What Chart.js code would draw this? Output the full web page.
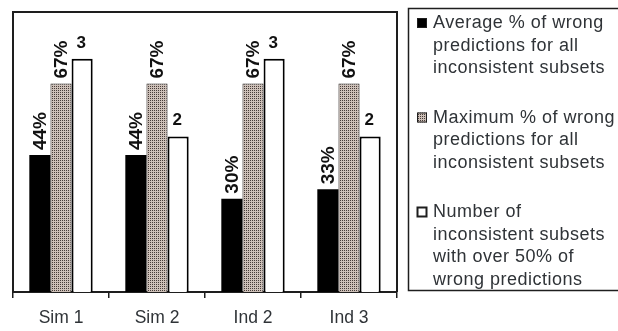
<!DOCTYPE html>
<html>
<head>
<meta charset="utf-8">
<script src="https://cdn.jsdelivr.net/npm/chart.js@4/dist/chart.umd.min.js"></script>
<style>
  html, body { margin: 0; padding: 0; background: #ffffff; }
  #wrap { width: 618px; height: 331px; position: relative; }
</style>
</head>
<body>
<div id="wrap"><canvas id="c" width="618" height="331"></canvas></div>
<script>
// Subsets of wrong predictions per model
const categories = ['Sim 1', 'Sim 2', 'Ind 2', 'Ind 3'];
const avgWrongPct = [44, 44, 30, 33];
const maxWrongPct = [67, 67, 67, 67];
const subsetsOver50 = [3, 2, 3, 2];

const avgName = ['Average % of wrong', 'predictions for all', 'inconsistent subsets'];
const maxName = ['Maximum % of wrong', 'predictions for all', 'inconsistent subsets'];
const countName = ['Number of', 'inconsistent subsets', 'with over 50% of', 'wrong predictions'];

const pctAxisMax = 90;
const countAxisMax = 3.6;

const INK = '#1e1e1e';
const TEXT = '#2f3337';

// fine dotted fill for the "maximum" bars
function dotPattern() {
  const p = document.createElement('canvas');
  p.width = 2; p.height = 2;
  const g = p.getContext('2d');
  g.fillStyle = '#cdc0b8';
  g.fillRect(0, 0, 2, 2);
  g.fillStyle = '#463c38';
  g.fillRect(0, 0, 1, 1);
  return g.createPattern(p, 'repeat');
}
const dots = dotPattern();

// frame around the plot area (top, left, right)
const framePlugin = {
  id: 'frame',
  beforeDatasetsDraw(chart) {
    const { ctx, chartArea: a } = chart;
    ctx.save();
    ctx.strokeStyle = INK;
    ctx.lineWidth = 2;
    ctx.beginPath();
    ctx.moveTo(a.left, a.bottom);
    ctx.lineTo(a.left, a.top);
    ctx.lineTo(a.right, a.top);
    ctx.lineTo(a.right, a.bottom);
    ctx.stroke();
    ctx.restore();
  }
};

// value labels: rotated percentages, horizontal counts
const valueLabels = {
  id: 'valueLabels',
  afterDatasetsDraw(chart) {
    const { ctx } = chart;
    chart.data.datasets.forEach((ds, di) => {
      const meta = chart.getDatasetMeta(di);
      meta.data.forEach((bar, i) => {
        const v = ds.data[i];
        ctx.save();
        ctx.fillStyle = '#111';
        if (ds.yAxisID === 'yPct') {
          ctx.font = 'bold 19px "Liberation Sans", Arial, sans-serif';
          ctx.translate(bar.x, bar.y - 5);
          ctx.rotate(-Math.PI / 2);
          ctx.textAlign = 'left';
          ctx.textBaseline = 'middle';
          ctx.fillText(v + '%', 0, 1);
        } else {
          ctx.font = 'bold 17px "Liberation Sans", Arial, sans-serif';
          ctx.textAlign = 'center';
          ctx.textBaseline = 'alphabetic';
          ctx.fillText(String(v), bar.x - 1, bar.y - 11);
        }
        ctx.restore();
      });
    });
  }
};

// boxed legend on the right with wrapped series names
const sideLegend = {
  id: 'sideLegend',
  afterDraw(chart) {
    const { ctx } = chart;
    const box = { x: 408.5, y: 8.5, w: 220, h: 282 };
    ctx.save();
    ctx.strokeStyle = INK;
    ctx.lineWidth = 1.5;
    ctx.strokeRect(box.x, box.y, box.w, box.h);

    const lineH = 22.5;
    const blockGap = 27;
    const textX = 433;
    let baseline = 28;
    ctx.font = '18px "Liberation Sans", Arial, sans-serif';
    if ('letterSpacing' in ctx) ctx.letterSpacing = '0.5px';
    ctx.textBaseline = 'alphabetic';
    ctx.textAlign = 'left';
    chart.data.datasets.forEach((ds) => {
      const lines = ds.label;
      // marker
      const mx = 417, my = baseline - 10, ms = 10;
      ctx.fillStyle = ds.backgroundColor;
      ctx.fillRect(mx, my, ms, ms);
      ctx.strokeStyle = INK;
      ctx.lineWidth = ds.borderWidth >= 2 ? 2 : 1;
      ctx.strokeRect(mx + 0.5, my + 0.5, ms - 1, ms - 1);
      ctx.fillStyle = TEXT;
      lines.forEach((t, k) => ctx.fillText(t, textX, baseline + k * lineH));
      baseline += lines.length * lineH + blockGap;
    });
    ctx.restore();
  }
};

new Chart(document.getElementById('c'), {
  type: 'bar',
  data: {
    labels: categories,
    datasets: [
      {
        label: avgName,
        data: avgWrongPct,
        yAxisID: 'yPct',
        backgroundColor: '#000000',
        borderColor: '#000000',
        borderWidth: 0
      },
      {
        label: maxName,
        data: maxWrongPct,
        yAxisID: 'yPct',
        backgroundColor: dots,
        borderColor: '#2a2422',
        borderWidth: 1
      },
      {
        label: countName,
        data: subsetsOver50,
        yAxisID: 'yCount',
        backgroundColor: '#ffffff',
        borderColor: '#000000',
        borderWidth: 2
      }
    ]
  },
  options: {
    responsive: false,
    animation: false,
    devicePixelRatio: 1,
    layout: { padding: { left: 13, right: 221, top: 12, bottom: 0 } },
    datasets: {
      bar: { categoryPercentage: 0.66, barPercentage: 1.0, borderSkipped: 'start' }
    },
    scales: {
      x: {
        grid: {
          display: true,
          offset: true,
          drawOnChartArea: false,
          drawTicks: true,
          tickLength: 6,
          color: INK,
          lineWidth: 1.5
        },
        border: { display: true, color: INK, width: 2 },
        ticks: {
          color: TEXT,
          padding: 10,
          font: { family: '"Liberation Sans", Arial, sans-serif', size: 17.5 }
        },
        afterFit(scale) { scale.height = 39; }
      },
      yPct: {
        display: false,
        min: 0,
        max: pctAxisMax
      },
      yCount: {
        display: false,
        min: 0,
        max: countAxisMax
      }
    },
    plugins: {
      legend: { display: false },
      tooltip: { enabled: false }
    }
  },
  plugins: [framePlugin, valueLabels, sideLegend]
});
</script>
</body>
</html>
